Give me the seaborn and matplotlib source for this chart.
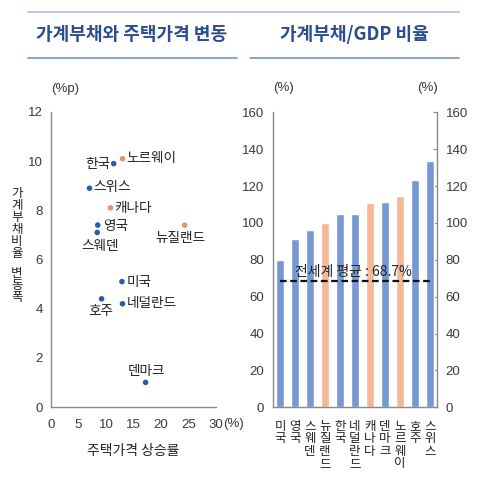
import pandas as pd
import numpy as np
import matplotlib
matplotlib.use("Agg")
import matplotlib.pyplot as plt
from matplotlib.lines import Line2D
import seaborn as sns

# scatter: house price growth vs household debt ratio change
sc_names = ["한국", "노르웨이", "스위스", "캐나다", "영국", "스웨덴", "뉴질랜드", "미국", "호주", "네덜란드", "덴마크"]
sc_price = [11.4, 13.0, 7.0, 10.8, 8.5, 8.4, 24.3, 12.9, 9.2, 13.0, 17.2]
sc_debt = [9.9, 10.1, 8.9, 8.1, 7.4, 7.1, 7.4, 5.1, 4.4, 4.2, 1.0]
sc_group = ["a", "b", "a", "b", "a", "a", "b", "a", "a", "a", "a"]
# label offsets in pixels (dx, dy, ha)
sc_offsets = [(-3, 0, "right"), (4, 1, "left"), (4, 1, "left"), (4, 0, "left"), (5, -1, "left"),
              (3, -14, "center"), (-4, -13, "center"), (5, 0, "left"), (-1, -12, "center"),
              (4, 1, "left"), (1, 11, "center")]

# bar: household debt / GDP
bar_names = ["미국", "영국", "스웨덴", "뉴질랜드", "한국", "네덜란드", "캐나다", "덴마크", "노르웨이", "호주", "스위스"]
bar_vals = [80.0, 91.5, 96.0, 99.8, 105.0, 105.0, 111.0, 111.5, 114.8, 123.5, 133.5]
bar_group = ["a", "a", "a", "b", "a", "a", "b", "a", "b", "a", "a"]
world_avg = 68.7

sns.set_theme(style="white")
plt.rcParams["font.family"] = ["Liberation Sans", "Noto Sans CJK KR", "DejaVu Sans"]
kr = ["Noto Sans CJK KR", "DejaVu Sans"]
tick_c = "#3a3a3a"
spine_c = "#8a8a8a"

fig = plt.figure(figsize=(4.8, 4.84), dpi=100)
W, H = 480, 484

def box(x0, y0, x1, y1):
    return [x0 / W, 1 - y1 / H, (x1 - x0) / W, (y1 - y0) / H]

# header lines and titles
fig.add_artist(Line2D([28 / W, 459 / W], [1 - 12 / H] * 2, color="#a9c1ea", lw=1.2))
fig.add_artist(Line2D([28 / W, 237 / W], [1 - 58 / H] * 2, color="#6f93d3", lw=1.2))
fig.add_artist(Line2D([250 / W, 459 / W], [1 - 58 / H] * 2, color="#6f93d3", lw=1.2))
fig.text(132 / W, 1 - 35 / H, "가계부채와 주택가격 변동", family=kr, fontsize=13, fontweight="bold",
         color="#2a4d8f", ha="center", va="center")
fig.text(354 / W, 1 - 35 / H, "가계부채/GDP 비율", family=kr, fontsize=13, fontweight="bold",
         color="#2a4d8f", ha="center", va="center")

# ---- scatter ----
ax1 = fig.add_axes(box(51, 112, 216, 407))
df_sc = pd.DataFrame({"price": sc_price, "debt": sc_debt, "group": sc_group})
sns.scatterplot(data=df_sc, x="price", y="debt", hue="group",
                palette={"a": "#2a5caa", "b": "#e0956a"}, s=16, linewidth=0, legend=False, ax=ax1)
for n, x, y, (dx, dy, ha) in zip(sc_names, sc_price, sc_debt, sc_offsets):
    ax1.annotate(n, (x, y), xytext=(dx, dy), textcoords="offset pixels", ha=ha, va="center",
                 family=kr, fontsize=9.8, color="#222222")
ax1.set_xlim(0, 30)
ax1.set_ylim(0, 12)
ax1.set_xticks(range(0, 31, 5))
ax1.set_yticks(range(0, 13, 2))
ax1.set_xlabel("")
ax1.set_ylabel("")
for s in ["top", "right"]:
    ax1.spines[s].set_visible(False)
for s in ["left", "bottom"]:
    ax1.spines[s].set_color(spine_c)
    ax1.spines[s].set_linewidth(1.0)
ax1.tick_params(direction="in", length=3, width=0.8, color=spine_c, labelsize=9.5, labelcolor=tick_c)
ax1.tick_params(axis="x", pad=9)
ax1.tick_params(axis="y", pad=6)
fig.text(223 / W, 1 - 424 / H, "(%)", fontsize=9.5, color=tick_c, ha="left", va="center")
fig.text(51 / W, 1 - 89 / H, "(%p)", fontsize=9.5, color=tick_c, ha="left", va="center")
fig.text(133 / W, 1 - 451 / H, "주택가격 상승률", family=kr, fontsize=10, color="#222222",
         ha="center", va="center")
# vertical y label, one character per line
ylab = "가계부채비율 변동폭"
yy = 193
for ch in ylab:
    if ch == " ":
        yy += 7
        continue
    fig.text(17 / W, 1 - yy / H, ch, family=kr, fontsize=9, color="#222222",
             ha="center", va="center")
    yy += 12.2

# ---- bars ----
ax2 = fig.add_axes(box(272.7, 112.3, 437.3, 407.3))
df_b = pd.DataFrame({"name": bar_names, "val": bar_vals, "group": bar_group})
sns.barplot(data=df_b, x="name", y="val", hue="group", order=bar_names, dodge=False, saturation=1,
            palette={"a": "#7699d3", "b": "#f4b897"}, width=0.5, legend=False, ax=ax2)
ax2.hlines(world_avg, 0, len(bar_names) - 1, colors="#111111", linestyles=(0, (3, 1.6)), lw=1.6)
ax2.text(4.87, world_avg + 4.8, f"전세계 평균 : {world_avg}%", family=kr, fontsize=10,
         color="#222222", ha="center", va="center")
ax2.set_xlim(-0.5, len(bar_names) - 0.5)
ax2.set_ylim(0, 160)
ax2.set_yticks(range(0, 161, 20))
ax2.set_xlabel("")
ax2.set_ylabel("")
ax2.set_xticks(range(len(bar_names)))
ax2.set_xticklabels(["\n".join(n) for n in bar_names], family=kr, fontsize=9, color="#222222",
                    va="top", linespacing=0.95)
ax2.set_xticks(np.arange(-0.5, len(bar_names), 1.0), minor=True)
ax2.tick_params(axis="x", which="major", length=0, pad=9)
ax2.tick_params(axis="x", which="minor", direction="in", length=3, width=0.8, color=spine_c)
ax2.tick_params(axis="y", direction="in", length=3, width=0.8, color=spine_c, labelsize=9.5,
                labelcolor=tick_c, right=True, labelright=True, pad=6)
ax2.spines["top"].set_visible(False)
for s in ["left", "right", "bottom"]:
    ax2.spines[s].set_color(spine_c)
    ax2.spines[s].set_linewidth(1.0)
fig.text(273 / W, 1 - 88 / H, "(%)", fontsize=9.5, color=tick_c, ha="left", va="center")
fig.text(417 / W, 1 - 88 / H, "(%)", fontsize=9.5, color=tick_c, ha="left", va="center")

fig.savefig("out.png", dpi=100)
